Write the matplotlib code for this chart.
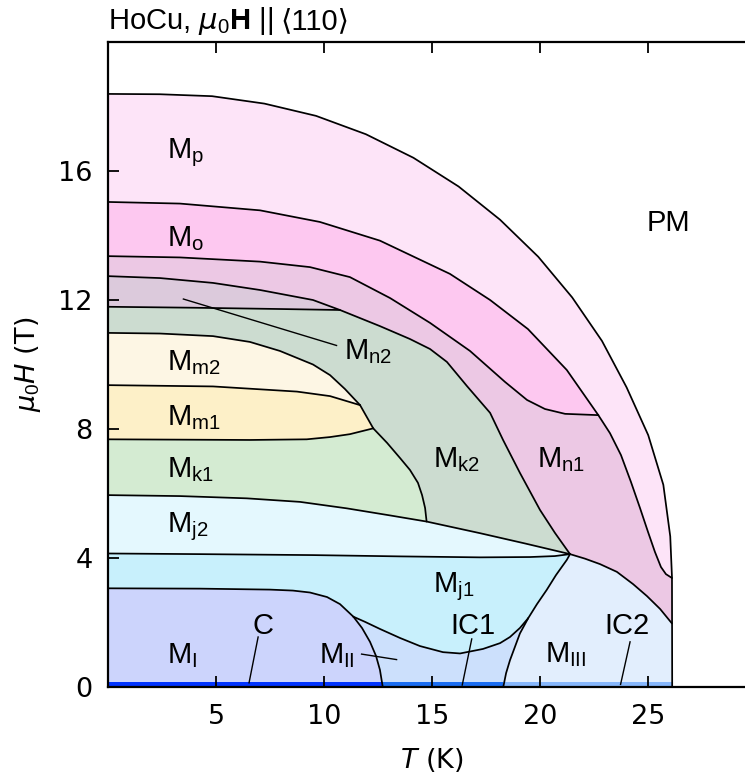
import numpy as np
import matplotlib
matplotlib.use("Agg")
import matplotlib.pyplot as plt

plt.rcParams['mathtext.fontset'] = 'custom'
plt.rcParams['mathtext.rm'] = 'Liberation Sans'
plt.rcParams['mathtext.it'] = 'DejaVu Sans:italic'
plt.rcParams['mathtext.bf'] = 'Liberation Sans:bold'

# phase boundaries, (T [K], mu0H [T])
pm_T = [0, 2.4, 4.82, 7.24, 9.63, 11.94, 14.14, 16.23, 18.15, 19.92, 21.49, 22.87, 24.01, 25.01, 25.71, 26.03, 26.11, 26.12]
pm_H = [18.39, 18.38, 18.32, 18.09, 17.71, 17.14, 16.41, 15.52, 14.49, 13.34, 12.08, 10.73, 9.29, 7.81, 6.27, 4.67, 3.41, 0]

p_o_T = [0, 3.33, 7.04, 9.81, 12.59, 15.83, 17.69, 19.44, 21.24, 22.7]
p_o_H = [15.04, 14.99, 14.78, 14.42, 13.84, 12.81, 12.0, 11.1, 9.83, 8.43]
p_n1_T = [22.7, 23.24, 23.75, 24.21, 24.63, 25.0, 25.32, 25.6, 25.83, 26.11]
p_n1_H = [8.43, 7.87, 7.19, 6.36, 5.55, 4.81, 4.19, 3.72, 3.5, 3.38]

o_n1_T = [0, 3.33, 7.04, 9.35, 11.2, 13.06, 14.91, 16.76, 18.38, 19.4, 20.23, 21.16, 22.7]
o_n1_H = [13.36, 13.32, 13.19, 13.02, 12.71, 12.06, 11.29, 10.42, 9.46, 8.9, 8.62, 8.47, 8.43]

n1_k2_T = [0, 2.41, 4.86, 7.04, 9.49, 10.74, 12.59, 13.98, 14.91, 15.69, 16.62, 17.69, 18.29, 19.07, 20.0, 20.69, 21.39]
n1_k2_H = [12.74, 12.68, 12.53, 12.31, 12.0, 11.69, 11.19, 10.79, 10.48, 10.08, 9.33, 8.5, 7.66, 6.64, 5.49, 4.78, 4.12]

n2_k2_T = [0, 4, 8, 10.74]
n2_k2_H = [11.79, 11.76, 11.72, 11.69]

m2_k2_T = [0, 2.41, 4.86, 6.57, 7.96, 9.49, 10.28, 10.97, 11.67]
m2_k2_H = [10.98, 10.96, 10.88, 10.7, 10.42, 10.0, 9.67, 9.24, 8.74]
m1_k2_T = [11.67, 12.28]
m1_k2_H = [8.74, 8.02]
k1_k2_T = [12.28, 12.92, 13.52, 13.98, 14.35, 14.54, 14.68, 14.75]
k1_k2_H = [8.02, 7.57, 7.1, 6.73, 6.33, 5.95, 5.55, 5.13]

m2_m1_T = [0, 4.86, 8.75, 10.28, 11.67]
m2_m1_H = [9.36, 9.32, 9.16, 9.02, 8.74]
m1_k1_T = [0, 6.57, 9.2, 10.28, 11.2, 12.28]
m1_k1_H = [7.68, 7.66, 7.68, 7.75, 7.84, 8.02]

k_j2_T = [0, 3.33, 6.42, 8.89, 11.05, 13.06, 14.75, 17.22, 19.31, 21.39]
k_j2_H = [5.95, 5.92, 5.85, 5.74, 5.54, 5.32, 5.13, 4.77, 4.45, 4.12]
j2_j1_T = [0, 4.26, 9.49, 13.52, 17.22, 19.54, 20.69, 21.39]
j2_j1_H = [4.14, 4.12, 4.09, 4.05, 4.02, 4.03, 4.06, 4.12]

n1_iii_T = [21.39, 22.08, 22.78, 23.56, 24.31, 24.95, 25.56, 26.11]
n1_iii_H = [4.12, 3.98, 3.81, 3.57, 3.19, 2.82, 2.42, 1.97]

i_j1_T = [0, 4.26, 7.5, 8.56, 9.35, 10.14, 10.74, 11.36]
i_j1_H = [3.06, 3.05, 3.02, 2.99, 2.93, 2.79, 2.57, 2.18]
i_ii_T = [11.36, 11.76, 12.13, 12.41, 12.59, 12.72]
i_ii_H = [2.18, 1.83, 1.4, 0.96, 0.53, 0]
ii_j1_T = [11.36, 11.9, 12.59, 13.52, 14.44, 15.51, 16.3, 17.36, 18.15, 18.61, 19.07, 19.45]
ii_j1_H = [2.18, 2.02, 1.8, 1.52, 1.27, 1.08, 1.04, 1.18, 1.36, 1.55, 1.83, 2.13]
ii_iii_T = [18.3, 18.43, 18.61, 19.07, 19.45]
ii_iii_H = [0, 0.43, 0.83, 1.66, 2.13]
j1_iii_T = [19.45, 19.86, 20.31, 20.74, 21.24, 21.39]
j1_iii_H = [2.13, 2.57, 3.01, 3.47, 3.94, 4.12]

# low-field ground-state bars: C, IC1, IC2
bar_edges = [0, 12.72, 18.3, 26.12]
bar_colors = ['#0033ff', '#1a6df2', '#86b6fb']

# region labels: (text, T, H) at baseline
labels = [
    (r'$\mathrm{M_p}$', 2.73, 16.4), (r'$\mathrm{M_o}$', 2.75, 13.68),
    (r'$\mathrm{M_{n2}}$', 10.93, 10.17), (r'$\mathrm{M_{m2}}$', 2.75, 9.83),
    (r'$\mathrm{M_{m1}}$', 2.75, 8.11), (r'$\mathrm{M_{k1}}$', 2.75, 6.51),
    (r'$\mathrm{M_{j2}}$', 2.75, 4.80), (r'$\mathrm{M_{k2}}$', 15.03, 6.81),
    (r'$\mathrm{M_{n1}}$', 19.88, 6.81), (r'$\mathrm{M_{j1}}$', 15.06, 2.95),
    (r'$\mathrm{M_{I}}$', 2.75, 0.73), (r'$\mathrm{M_{II}}$', 9.78, 0.73),
    (r'$\mathrm{M_{III}}$', 20.23, 0.78), ('C', 6.71, 1.65),
    ('IC1', 15.87, 1.65), ('IC2', 23.0, 1.65), ('PM', 24.94, 14.13),
]
pointers = [
    ((3.49, 12.03), (10.58, 10.59)),
    ((11.74, 1.02), (13.36, 0.85)),
    ((6.95, 1.55), (6.53, 0.13)),
    ((16.84, 1.49), (16.4, 0.06)),
    ((24.17, 1.4), (23.73, 0.08)),
]

col = {'p': '#fde4f8', 'o': '#fdc8f0', 'n1': '#ecc8e4', 'n2': '#dccadc',
       'k2': '#ccdcd0', 'm2': '#fdf6e4', 'm1': '#fdf0c8', 'k1': '#d4ebd2',
       'j2': '#e4f8fe', 'j1': '#c8f0fc', 'I': '#ccd4fc', 'II': '#cce0fc',
       'III': '#e2eefd'}


def poly(*parts):
    T, H = [], []
    for t, h, rev in parts:
        if rev:
            t, h = t[::-1], h[::-1]
        T += list(t)
        H += list(h)
    return T, H


fig = plt.figure(figsize=(7.45, 7.83), dpi=100)
ax = fig.add_axes([108 / 745, 96 / 783, 648 / 745, 645 / 783])

# fills, painted from the outside in
T, H = poly((pm_T, pm_H, False), ([0], [0], False))
ax.fill(T, H, color=col['p'], lw=0)
T, H = poly((p_o_T, p_o_H, False), (p_n1_T, p_n1_H, False), ([26.12, 0], [0, 0], False))
ax.fill(T, H, color=col['o'], lw=0)
T, H = poly((o_n1_T, o_n1_H, False), (p_n1_T, p_n1_H, False), ([26.12, 0], [0, 0], False))
ax.fill(T, H, color=col['n1'], lw=0)
T, H = poly((n1_k2_T, n1_k2_H, False), ([21.39, 0], [0, 0], False))
ax.fill(T, H, color=col['k2'], lw=0)
T, H = poly((n1_k2_T[:6], n1_k2_H[:6], False), (n2_k2_T, n2_k2_H, True))
ax.fill(T, H, color=col['n2'], lw=0)
T, H = poly((m2_k2_T, m2_k2_H, False), (m1_k2_T, m1_k2_H, False), (k1_k2_T, k1_k2_H, False),
            (k_j2_T[:7], k_j2_H[:7], True))
ax.fill(T, H, color=col['k1'], lw=0)
T, H = poly((m2_k2_T, m2_k2_H, False), (m1_k2_T, m1_k2_H, False), (m1_k1_T, m1_k1_H, True))
ax.fill(T, H, color=col['m1'], lw=0)
T, H = poly((m2_k2_T, m2_k2_H, False), (m2_m1_T, m2_m1_H, True))
ax.fill(T, H, color=col['m2'], lw=0)
T, H = poly((k_j2_T, k_j2_H, False), (j2_j1_T, j2_j1_H, True))
ax.fill(T, H, color=col['j2'], lw=0)
T, H = poly((j2_j1_T, j2_j1_H, False), (j1_iii_T, j1_iii_H, True), (ii_j1_T, ii_j1_H, True),
            (i_j1_T, i_j1_H, True))
ax.fill(T, H, color=col['j1'], lw=0)
T, H = poly((ii_j1_T, ii_j1_H, False), (ii_iii_T, ii_iii_H, True), (i_ii_T, i_ii_H, True))
ax.fill(T, H, color=col['II'], lw=0)
T, H = poly(([0], [0], False), (i_j1_T, i_j1_H, False), (i_ii_T, i_ii_H, False))
ax.fill(T, H, color=col['I'], lw=0)
T, H = poly((ii_iii_T, ii_iii_H, False), (j1_iii_T, j1_iii_H, False), (n1_iii_T, n1_iii_H, False),
            ([26.12], [0], False))
ax.fill(T, H, color=col['III'], lw=0)

for i in range(3):
    ax.fill_between([bar_edges[i], bar_edges[i + 1]], 0, 0.17, color=bar_colors[i], lw=0)

# boundary lines
for t, h in [(pm_T, pm_H), (p_o_T, p_o_H), (p_n1_T, p_n1_H), (o_n1_T, o_n1_H),
             (n1_k2_T, n1_k2_H), (n2_k2_T, n2_k2_H), (m2_k2_T, m2_k2_H), (m1_k2_T, m1_k2_H),
             (k1_k2_T, k1_k2_H), (m2_m1_T, m2_m1_H), (m1_k1_T, m1_k1_H), (k_j2_T, k_j2_H),
             (j2_j1_T, j2_j1_H), (n1_iii_T, n1_iii_H), (i_j1_T, i_j1_H), (i_ii_T, i_ii_H),
             (ii_j1_T, ii_j1_H), (ii_iii_T, ii_iii_H), (j1_iii_T, j1_iii_H)]:
    ax.plot(t, h, color='black', lw=1.25, solid_joinstyle='round', solid_capstyle='round')

for a, b in pointers:
    ax.plot([a[0], b[0]], [a[1], b[1]], color='black', lw=1.0)

for s, t, h in labels:
    ax.text(t, h, s, fontsize=21, family='Liberation Sans', va='baseline', ha='left')

ax.set_xlim(0, 30)
ax.set_ylim(0, 20)
ax.set_xticks([5, 10, 15, 20, 25])
ax.set_yticks([0, 4, 8, 12, 16])
ax.tick_params(direction='in', length=8, width=1.3, labelsize=19.5, top=True, right=False)
ax.tick_params(axis='x', pad=12)
ax.tick_params(axis='y', pad=11)
for s in ['left', 'bottom', 'top']:
    ax.spines[s].set_linewidth(1.6)
ax.spines['right'].set_visible(False)

ax.set_xlabel(r'$T$ (K)', fontsize=19.5, labelpad=12)
ax.set_ylabel(r'$\mu_{\mathit{0}}H$ (T)', fontsize=19.5, labelpad=11)

# title: the angle brackets need DejaVu Sans
t1 = fig.text(108 / 745, 1 - 29 / 783, r'HoCu, $\mu_0\mathbf{H}$ ||', fontsize=21,
              family='Liberation Sans', va='baseline', ha='left')
fig.canvas.draw()
bb = t1.get_window_extent(fig.canvas.get_renderer())
fig.text((bb.x1 + 7) / 745, 1 - 29 / 783, '⟨110⟩', fontsize=21,
         family=['Liberation Sans', 'DejaVu Sans'], va='baseline', ha='left')

fig.savefig('out.png', dpi=100)
